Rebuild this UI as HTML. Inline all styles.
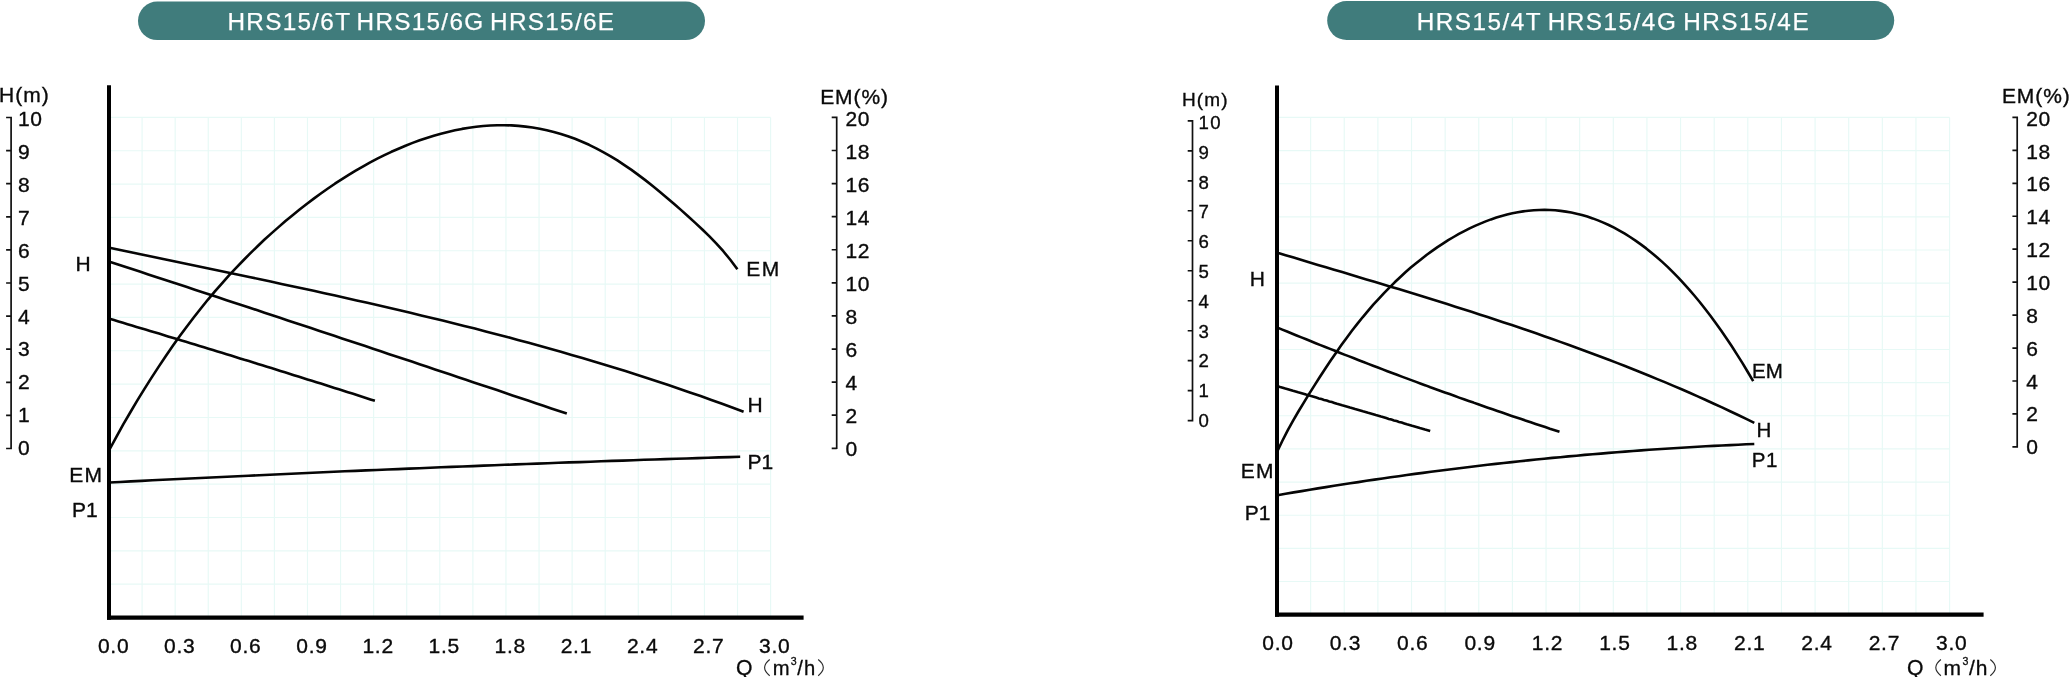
<!DOCTYPE html><html><head><meta charset="utf-8"><title>HRS15 pump curves</title>
<style>html,body{margin:0;padding:0;background:#fff}body{width:2070px;height:677px;overflow:hidden}svg{display:block;will-change:transform}text{font-family:"Liberation Sans",sans-serif}</style></head><body>
<svg width="2070" height="677" viewBox="0 0 2070 677">
<rect width="2070" height="677" fill="#fff"/>
<rect x="138" y="1.5" width="567" height="38.6" rx="19.3" fill="#407c7c"/>
<rect x="1327.2" y="1" width="567" height="39.1" rx="19.5" fill="#407c7c"/>
<text x="421.4" y="30.0" font-size="24.3" letter-spacing="1.3" text-anchor="middle" fill="#fff" stroke="#fff" stroke-width="0.25" word-spacing="-2.4">HRS15/6T HRS15/6G HRS15/6E</text>
<text x="1613.4" y="29.5" font-size="24.3" letter-spacing="1.52" text-anchor="middle" fill="#fff" stroke="#fff" stroke-width="0.25" word-spacing="-2.4">HRS15/4T HRS15/4G HRS15/4E</text>
<path d="M142.08,117.40V617.50M175.16,117.40V617.50M208.24,117.40V617.50M241.32,117.40V617.50M274.40,117.40V617.50M307.48,117.40V617.50M340.56,117.40V617.50M373.64,117.40V617.50M406.72,117.40V617.50M439.80,117.40V617.50M472.88,117.40V617.50M505.96,117.40V617.50M539.04,117.40V617.50M572.12,117.40V617.50M605.20,117.40V617.50M638.28,117.40V617.50M671.36,117.40V617.50M704.44,117.40V617.50M737.52,117.40V617.50M770.60,117.40V617.50M109.00,117.40H770.60M109.00,150.74H770.60M109.00,184.08H770.60M109.00,217.42H770.60M109.00,250.76H770.60M109.00,284.10H770.60M109.00,317.44H770.60M109.00,350.78H770.60M109.00,384.12H770.60M109.00,417.46H770.60M109.00,450.80H770.60M109.00,484.14H770.60M109.00,517.48H770.60M109.00,550.82H770.60M109.00,584.16H770.60" stroke="#e7f9f6" stroke-width="1.15" fill="none"/>
<path d="M1310.63,117.40V614.65M1344.26,117.40V614.65M1377.89,117.40V614.65M1411.52,117.40V614.65M1445.15,117.40V614.65M1478.78,117.40V614.65M1512.41,117.40V614.65M1546.04,117.40V614.65M1579.67,117.40V614.65M1613.30,117.40V614.65M1646.93,117.40V614.65M1680.56,117.40V614.65M1714.19,117.40V614.65M1747.82,117.40V614.65M1781.45,117.40V614.65M1815.08,117.40V614.65M1848.71,117.40V614.65M1882.34,117.40V614.65M1915.97,117.40V614.65M1949.60,117.40V614.65M1277.00,117.40H1949.60M1277.00,150.55H1949.60M1277.00,183.70H1949.60M1277.00,216.85H1949.60M1277.00,250.00H1949.60M1277.00,283.15H1949.60M1277.00,316.30H1949.60M1277.00,349.45H1949.60M1277.00,382.60H1949.60M1277.00,415.75H1949.60M1277.00,448.90H1949.60M1277.00,482.05H1949.60M1277.00,515.20H1949.60M1277.00,548.35H1949.60M1277.00,581.50H1949.60" stroke="#e7f9f6" stroke-width="1.15" fill="none"/>
<path d="M109.0,450.5 L116.1,437.4 L123.1,424.7 L130.2,412.5 L137.2,400.7 L144.3,389.1 L151.4,377.9 L158.4,367.1 L165.5,356.5 L172.5,346.3 L179.6,336.3 L186.7,326.7 L193.7,317.5 L200.8,308.5 L207.8,299.8 L214.9,291.4 L222.0,283.3 L229.0,275.4 L236.1,267.9 L243.2,260.5 L250.2,253.4 L257.3,246.5 L264.3,239.8 L271.4,233.4 L278.5,227.1 L285.5,221.0 L292.6,215.2 L299.6,209.5 L306.7,204.0 L313.8,198.6 L320.8,193.5 L327.9,188.5 L334.9,183.7 L342.0,179.1 L349.1,174.7 L356.1,170.4 L363.2,166.3 L370.2,162.4 L377.3,158.7 L384.4,155.2 L391.4,151.8 L398.5,148.7 L405.5,145.7 L412.6,142.9 L419.7,140.3 L426.7,137.9 L433.8,135.7 L440.9,133.7 L447.9,131.9 L455.0,130.3 L462.0,128.9 L469.1,127.7 L476.2,126.8 L483.2,126.0 L490.3,125.5 L497.3,125.3 L504.4,125.2 L511.5,125.4 L518.5,125.9 L525.6,126.6 L532.6,127.5 L539.7,128.7 L546.8,130.2 L553.8,131.9 L560.9,133.9 L567.9,136.2 L575.0,138.8 L582.1,141.7 L589.1,144.8 L596.2,148.3 L603.2,152.1 L610.3,156.1 L617.4,160.4 L624.4,165.1 L631.5,169.9 L638.6,175.1 L645.6,180.4 L652.7,186.0 L659.7,191.7 L666.8,197.7 L673.9,203.7 L680.9,209.9 L688.0,216.2 L695.0,222.6 L702.1,229.2 L709.2,236.1 L716.2,243.4 L723.3,251.2 L730.3,259.8 L737.4,269.3" stroke="#050505" stroke-width="2.6" fill="none" stroke-linejoin="round"/>
<path d="M109.5,247.8 L120.2,250.0 L131.0,252.3 L141.7,254.6 L152.5,256.8 L163.2,259.0 L174.0,261.3 L184.7,263.5 L195.5,265.8 L206.2,268.0 L217.0,270.2 L227.7,272.5 L238.5,274.8 L249.2,277.0 L260.0,279.3 L270.7,281.6 L281.5,283.9 L292.2,286.2 L303.0,288.5 L313.7,290.8 L324.4,293.2 L335.2,295.6 L345.9,298.0 L356.7,300.4 L367.4,302.8 L378.2,305.3 L388.9,307.8 L399.7,310.3 L410.4,312.8 L421.2,315.4 L431.9,318.0 L442.7,320.6 L453.4,323.2 L464.2,325.9 L474.9,328.6 L485.7,331.4 L496.4,334.2 L507.2,337.0 L517.9,339.9 L528.7,342.8 L539.4,345.8 L550.1,348.8 L560.9,351.8 L571.6,354.9 L582.4,358.1 L593.1,361.3 L603.9,364.5 L614.6,367.8 L625.4,371.1 L636.1,374.5 L646.9,378.0 L657.6,381.5 L668.4,385.1 L679.1,388.7 L689.9,392.4 L700.6,396.1 L711.4,400.0 L722.1,403.8 L732.9,407.8 L743.6,411.8" stroke="#050505" stroke-width="2.6" fill="none" stroke-linejoin="round"/>
<path d="M109.5,261.7 L117.3,264.2 L125.0,266.8 L132.8,269.3 L140.5,271.8 L148.3,274.4 L156.0,276.9 L163.8,279.5 L171.5,282.0 L179.3,284.6 L187.0,287.1 L194.8,289.7 L202.5,292.2 L210.3,294.8 L218.0,297.3 L225.8,299.9 L233.5,302.5 L241.3,305.0 L249.0,307.6 L256.8,310.1 L264.5,312.7 L272.3,315.3 L280.0,317.8 L287.8,320.4 L295.5,323.0 L303.3,325.5 L311.0,328.1 L318.8,330.7 L326.5,333.2 L334.3,335.8 L342.0,338.4 L349.8,341.0 L357.5,343.5 L365.3,346.1 L373.0,348.7 L380.8,351.3 L388.5,353.9 L396.3,356.4 L404.0,359.0 L411.8,361.6 L419.5,364.2 L427.3,366.8 L435.0,369.4 L442.8,372.0 L450.5,374.6 L458.3,377.2 L466.0,379.8 L473.8,382.4 L481.5,384.9 L489.3,387.5 L497.0,390.1 L504.8,392.7 L512.5,395.4 L520.3,398.0 L528.0,400.6 L535.8,403.2 L543.5,405.8 L551.3,408.4 L559.0,411.0 L566.8,413.6" stroke="#050505" stroke-width="2.6" fill="none" stroke-linejoin="round"/>
<path d="M109.5,318.8 L114.0,320.1 L118.5,321.5 L123.0,322.8 L127.5,324.2 L132.0,325.5 L136.5,326.9 L141.0,328.2 L145.5,329.6 L150.0,330.9 L154.5,332.3 L159.0,333.6 L163.5,335.0 L168.0,336.4 L172.5,337.7 L177.0,339.1 L181.5,340.5 L186.0,341.8 L190.5,343.2 L195.0,344.6 L199.5,345.9 L204.0,347.3 L208.5,348.7 L213.0,350.1 L217.5,351.4 L222.0,352.8 L226.5,354.2 L231.0,355.6 L235.5,357.0 L240.0,358.4 L244.4,359.8 L248.9,361.1 L253.4,362.5 L257.9,363.9 L262.4,365.3 L266.9,366.7 L271.4,368.1 L275.9,369.5 L280.4,370.9 L284.9,372.3 L289.4,373.7 L293.9,375.2 L298.4,376.6 L302.9,378.0 L307.4,379.4 L311.9,380.8 L316.4,382.2 L320.9,383.6 L325.4,385.1 L329.9,386.5 L334.4,387.9 L338.9,389.3 L343.4,390.8 L347.9,392.2 L352.4,393.6 L356.9,395.1 L361.4,396.5 L365.9,397.9 L370.4,399.4 L374.9,400.8" stroke="#050505" stroke-width="2.6" fill="none" stroke-linejoin="round"/>
<path d="M109.5,482.5 L120.2,482.0 L130.9,481.4 L141.6,480.9 L152.3,480.3 L162.9,479.8 L173.6,479.3 L184.3,478.8 L195.0,478.2 L205.7,477.7 L216.4,477.2 L227.1,476.7 L237.8,476.2 L248.5,475.7 L259.2,475.2 L269.8,474.7 L280.5,474.2 L291.2,473.7 L301.9,473.2 L312.6,472.8 L323.3,472.3 L334.0,471.8 L344.7,471.3 L355.4,470.9 L366.1,470.4 L376.7,470.0 L387.4,469.5 L398.1,469.1 L408.8,468.6 L419.5,468.2 L430.2,467.8 L440.9,467.3 L451.6,466.9 L462.3,466.5 L473.0,466.1 L483.6,465.6 L494.3,465.2 L505.0,464.8 L515.7,464.4 L526.4,464.0 L537.1,463.6 L547.8,463.2 L558.5,462.8 L569.2,462.4 L579.9,462.1 L590.5,461.7 L601.2,461.3 L611.9,460.9 L622.6,460.6 L633.3,460.2 L644.0,459.8 L654.7,459.5 L665.4,459.1 L676.1,458.8 L686.8,458.5 L697.4,458.1 L708.1,457.8 L718.8,457.4 L729.5,457.1 L740.2,456.8" stroke="#050505" stroke-width="2.6" fill="none" stroke-linejoin="round"/>
<path d="M1277.0,452.0 L1282.4,440.8 L1287.7,430.4 L1293.1,420.7 L1298.4,411.5 L1303.8,402.6 L1309.1,393.9 L1314.5,385.4 L1319.8,377.0 L1325.2,368.7 L1330.5,360.7 L1335.9,352.9 L1341.2,345.3 L1346.6,337.9 L1351.9,330.8 L1357.3,323.9 L1362.6,317.3 L1368.0,310.9 L1373.3,304.7 L1378.7,298.8 L1384.0,293.1 L1389.4,287.6 L1394.7,282.3 L1400.1,277.2 L1405.4,272.3 L1410.8,267.6 L1416.1,263.2 L1421.5,258.9 L1426.8,254.8 L1432.2,250.9 L1437.5,247.1 L1442.9,243.6 L1448.2,240.2 L1453.6,237.0 L1458.9,233.9 L1464.3,231.1 L1469.6,228.4 L1475.0,225.9 L1480.3,223.6 L1485.7,221.4 L1491.0,219.4 L1496.4,217.6 L1501.7,216.0 L1507.1,214.6 L1512.4,213.3 L1517.8,212.3 L1523.1,211.4 L1528.5,210.7 L1533.8,210.3 L1539.2,210.0 L1544.5,209.9 L1549.9,210.0 L1555.2,210.3 L1560.6,210.9 L1565.9,211.6 L1571.3,212.5 L1576.6,213.7 L1582.0,215.0 L1587.3,216.6 L1592.7,218.4 L1598.0,220.4 L1603.4,222.6 L1608.7,225.0 L1614.1,227.7 L1619.4,230.6 L1624.8,233.7 L1630.1,237.0 L1635.5,240.6 L1640.8,244.4 L1646.2,248.4 L1651.5,252.7 L1656.9,257.2 L1662.2,261.9 L1667.6,266.9 L1672.9,272.2 L1678.3,277.6 L1683.6,283.4 L1689.0,289.3 L1694.3,295.5 L1699.7,302.0 L1705.0,308.8 L1710.4,315.7 L1715.7,323.0 L1721.1,330.5 L1726.4,338.2 L1731.8,346.3 L1737.1,354.6 L1742.5,363.1 L1747.8,372.0 L1753.2,381.1" stroke="#050505" stroke-width="2.6" fill="none" stroke-linejoin="round"/>
<path d="M1277.5,252.8 L1285.6,255.2 L1293.7,257.6 L1301.7,260.1 L1309.8,262.5 L1317.9,264.9 L1326.0,267.3 L1334.1,269.7 L1342.2,272.1 L1350.2,274.5 L1358.3,277.0 L1366.4,279.4 L1374.5,281.8 L1382.6,284.2 L1390.6,286.7 L1398.7,289.1 L1406.8,291.6 L1414.9,294.1 L1423.0,296.6 L1431.0,299.1 L1439.1,301.6 L1447.2,304.1 L1455.3,306.7 L1463.4,309.2 L1471.5,311.8 L1479.5,314.4 L1487.6,317.1 L1495.7,319.7 L1503.8,322.4 L1511.9,325.1 L1519.9,327.8 L1528.0,330.6 L1536.1,333.3 L1544.2,336.2 L1552.3,339.0 L1560.3,341.9 L1568.4,344.8 L1576.5,347.7 L1584.6,350.7 L1592.7,353.7 L1600.8,356.7 L1608.8,359.8 L1616.9,362.9 L1625.0,366.0 L1633.1,369.2 L1641.2,372.5 L1649.2,375.8 L1657.3,379.1 L1665.4,382.4 L1673.5,385.9 L1681.6,389.3 L1689.6,392.8 L1697.7,396.4 L1705.8,400.0 L1713.9,403.7 L1722.0,407.4 L1730.1,411.2 L1738.1,415.0 L1746.2,418.9 L1754.3,422.8" stroke="#050505" stroke-width="2.6" fill="none" stroke-linejoin="round"/>
<path d="M1277.5,327.6 L1282.3,329.6 L1287.1,331.5 L1291.8,333.5 L1296.6,335.5 L1301.4,337.4 L1306.2,339.3 L1311.0,341.3 L1315.7,343.2 L1320.5,345.1 L1325.3,347.0 L1330.1,348.9 L1334.9,350.8 L1339.6,352.7 L1344.4,354.6 L1349.2,356.4 L1354.0,358.3 L1358.8,360.2 L1363.5,362.0 L1368.3,363.9 L1373.1,365.7 L1377.9,367.5 L1382.7,369.4 L1387.4,371.2 L1392.2,373.0 L1397.0,374.8 L1401.8,376.6 L1406.6,378.4 L1411.3,380.1 L1416.1,381.9 L1420.9,383.7 L1425.7,385.4 L1430.4,387.2 L1435.2,388.9 L1440.0,390.7 L1444.8,392.4 L1449.6,394.1 L1454.3,395.8 L1459.1,397.6 L1463.9,399.3 L1468.7,401.0 L1473.5,402.6 L1478.2,404.3 L1483.0,406.0 L1487.8,407.7 L1492.6,409.3 L1497.4,411.0 L1502.1,412.6 L1506.9,414.3 L1511.7,415.9 L1516.5,417.5 L1521.3,419.1 L1526.0,420.7 L1530.8,422.3 L1535.6,423.9 L1540.4,425.5 L1545.2,427.1 L1549.9,428.7 L1554.7,430.2 L1559.5,431.8" stroke="#050505" stroke-width="2.6" fill="none" stroke-linejoin="round"/>
<path d="M1277.5,386.2 L1280.1,387.0 L1282.7,387.7 L1285.3,388.5 L1287.9,389.2 L1290.4,390.0 L1293.0,390.8 L1295.6,391.5 L1298.2,392.3 L1300.8,393.0 L1303.4,393.8 L1306.0,394.6 L1308.6,395.3 L1311.1,396.1 L1313.7,396.8 L1316.3,397.6 L1318.9,398.4 L1321.5,399.1 L1324.1,399.9 L1326.7,400.6 L1329.3,401.4 L1331.9,402.1 L1334.4,402.9 L1337.0,403.7 L1339.6,404.4 L1342.2,405.2 L1344.8,405.9 L1347.4,406.7 L1350.0,407.5 L1352.6,408.2 L1355.1,409.0 L1357.7,409.7 L1360.3,410.5 L1362.9,411.3 L1365.5,412.0 L1368.1,412.8 L1370.7,413.5 L1373.3,414.3 L1375.8,415.1 L1378.4,415.8 L1381.0,416.6 L1383.6,417.3 L1386.2,418.1 L1388.8,418.9 L1391.4,419.6 L1394.0,420.4 L1396.6,421.1 L1399.1,421.9 L1401.7,422.6 L1404.3,423.4 L1406.9,424.2 L1409.5,424.9 L1412.1,425.7 L1414.7,426.4 L1417.3,427.2 L1419.8,428.0 L1422.4,428.7 L1425.0,429.5 L1427.6,430.2 L1430.2,431.0" stroke="#050505" stroke-width="2.6" fill="none" stroke-linejoin="round"/>
<path d="M1277.5,495.2 L1285.6,493.8 L1293.7,492.4 L1301.7,491.1 L1309.8,489.7 L1317.9,488.4 L1326.0,487.1 L1334.1,485.8 L1342.2,484.5 L1350.2,483.3 L1358.3,482.1 L1366.4,480.8 L1374.5,479.6 L1382.6,478.5 L1390.6,477.3 L1398.7,476.2 L1406.8,475.0 L1414.9,473.9 L1423.0,472.9 L1431.0,471.8 L1439.1,470.7 L1447.2,469.7 L1455.3,468.7 L1463.4,467.7 L1471.5,466.7 L1479.5,465.8 L1487.6,464.8 L1495.7,463.9 L1503.8,463.0 L1511.9,462.1 L1519.9,461.2 L1528.0,460.4 L1536.1,459.5 L1544.2,458.7 L1552.3,457.9 L1560.3,457.2 L1568.4,456.4 L1576.5,455.7 L1584.6,454.9 L1592.7,454.2 L1600.8,453.6 L1608.8,452.9 L1616.9,452.2 L1625.0,451.6 L1633.1,451.0 L1641.2,450.4 L1649.2,449.8 L1657.3,449.3 L1665.4,448.7 L1673.5,448.2 L1681.6,447.7 L1689.6,447.2 L1697.7,446.7 L1705.8,446.3 L1713.9,445.9 L1722.0,445.5 L1730.1,445.1 L1738.1,444.7 L1746.2,444.3 L1754.3,444.0" stroke="#050505" stroke-width="2.6" fill="none" stroke-linejoin="round"/>
<path d="M109,85.3V619.7" stroke="#000" stroke-width="4" fill="none"/>
<path d="M107,617.6H803.6" stroke="#000" stroke-width="4.3" fill="none"/>
<path d="M1277,85.6V616.7" stroke="#000" stroke-width="4" fill="none"/>
<path d="M1275,614.6H1983.6" stroke="#000" stroke-width="4.3" fill="none"/>
<path d="M11.10,116.70V449.30M6.10,117.50H11.10M6.10,150.60H11.10M6.10,183.70H11.10M6.10,216.80H11.10M6.10,249.90H11.10M6.10,283.00H11.10M6.10,316.10H11.10M6.10,349.20H11.10M6.10,382.30H11.10M6.10,415.40H11.10M6.10,448.50H11.10" stroke="#111" stroke-width="1.7" fill="none"/>
<path d="M836.70,116.60V449.10M831.70,117.40H836.70M831.70,150.49H836.70M831.70,183.58H836.70M831.70,216.67H836.70M831.70,249.76H836.70M831.70,282.85H836.70M831.70,315.94H836.70M831.70,349.03H836.70M831.70,382.12H836.70M831.70,415.21H836.70M831.70,448.30H836.70" stroke="#111" stroke-width="1.7" fill="none"/>
<path d="M1192.50,120.00V421.50M1187.70,120.80H1192.50M1187.70,150.79H1192.50M1187.70,180.78H1192.50M1187.70,210.77H1192.50M1187.70,240.76H1192.50M1187.70,270.75H1192.50M1187.70,300.74H1192.50M1187.70,330.73H1192.50M1187.70,360.72H1192.50M1187.70,390.71H1192.50M1187.70,420.70H1192.50" stroke="#111" stroke-width="1.7" fill="none"/>
<path d="M2017.20,116.60V447.70M2012.40,117.40H2017.20M2012.40,150.35H2017.20M2012.40,183.30H2017.20M2012.40,216.25H2017.20M2012.40,249.20H2017.20M2012.40,282.15H2017.20M2012.40,315.10H2017.20M2012.40,348.05H2017.20M2012.40,381.00H2017.20M2012.40,413.95H2017.20M2012.40,446.90H2017.20" stroke="#111" stroke-width="1.7" fill="none"/>
<text x="18.0" y="455.3" font-size="21" letter-spacing="0.6" text-anchor="start" fill="#0a0a0a" stroke="#0a0a0a" stroke-width="0.35" >0</text>
<text x="18.0" y="422.4" font-size="21" letter-spacing="0.6" text-anchor="start" fill="#0a0a0a" stroke="#0a0a0a" stroke-width="0.35" >1</text>
<text x="18.0" y="389.4" font-size="21" letter-spacing="0.6" text-anchor="start" fill="#0a0a0a" stroke="#0a0a0a" stroke-width="0.35" >2</text>
<text x="18.0" y="356.4" font-size="21" letter-spacing="0.6" text-anchor="start" fill="#0a0a0a" stroke="#0a0a0a" stroke-width="0.35" >3</text>
<text x="18.0" y="323.5" font-size="21" letter-spacing="0.6" text-anchor="start" fill="#0a0a0a" stroke="#0a0a0a" stroke-width="0.35" >4</text>
<text x="18.0" y="290.6" font-size="21" letter-spacing="0.6" text-anchor="start" fill="#0a0a0a" stroke="#0a0a0a" stroke-width="0.35" >5</text>
<text x="18.0" y="257.6" font-size="21" letter-spacing="0.6" text-anchor="start" fill="#0a0a0a" stroke="#0a0a0a" stroke-width="0.35" >6</text>
<text x="18.0" y="224.6" font-size="21" letter-spacing="0.6" text-anchor="start" fill="#0a0a0a" stroke="#0a0a0a" stroke-width="0.35" >7</text>
<text x="18.0" y="191.7" font-size="21" letter-spacing="0.6" text-anchor="start" fill="#0a0a0a" stroke="#0a0a0a" stroke-width="0.35" >8</text>
<text x="18.0" y="158.8" font-size="21" letter-spacing="0.6" text-anchor="start" fill="#0a0a0a" stroke="#0a0a0a" stroke-width="0.35" >9</text>
<text x="18.0" y="125.8" font-size="21" letter-spacing="0.6" text-anchor="start" fill="#0a0a0a" stroke="#0a0a0a" stroke-width="0.35" >10</text>
<text x="845.6" y="455.6" font-size="21" letter-spacing="0.6" text-anchor="start" fill="#0a0a0a" stroke="#0a0a0a" stroke-width="0.35" >0</text>
<text x="845.6" y="422.6" font-size="21" letter-spacing="0.6" text-anchor="start" fill="#0a0a0a" stroke="#0a0a0a" stroke-width="0.35" >2</text>
<text x="845.6" y="389.7" font-size="21" letter-spacing="0.6" text-anchor="start" fill="#0a0a0a" stroke="#0a0a0a" stroke-width="0.35" >4</text>
<text x="845.6" y="356.7" font-size="21" letter-spacing="0.6" text-anchor="start" fill="#0a0a0a" stroke="#0a0a0a" stroke-width="0.35" >6</text>
<text x="845.6" y="323.7" font-size="21" letter-spacing="0.6" text-anchor="start" fill="#0a0a0a" stroke="#0a0a0a" stroke-width="0.35" >8</text>
<text x="845.6" y="290.8" font-size="21" letter-spacing="0.6" text-anchor="start" fill="#0a0a0a" stroke="#0a0a0a" stroke-width="0.35" >10</text>
<text x="845.6" y="257.8" font-size="21" letter-spacing="0.6" text-anchor="start" fill="#0a0a0a" stroke="#0a0a0a" stroke-width="0.35" >12</text>
<text x="845.6" y="224.8" font-size="21" letter-spacing="0.6" text-anchor="start" fill="#0a0a0a" stroke="#0a0a0a" stroke-width="0.35" >14</text>
<text x="845.6" y="191.8" font-size="21" letter-spacing="0.6" text-anchor="start" fill="#0a0a0a" stroke="#0a0a0a" stroke-width="0.35" >16</text>
<text x="845.6" y="158.9" font-size="21" letter-spacing="0.6" text-anchor="start" fill="#0a0a0a" stroke="#0a0a0a" stroke-width="0.35" >18</text>
<text x="845.6" y="125.9" font-size="21" letter-spacing="0.6" text-anchor="start" fill="#0a0a0a" stroke="#0a0a0a" stroke-width="0.35" >20</text>
<text x="-0.9" y="102.2" font-size="21" letter-spacing="1.0" text-anchor="start" fill="#0a0a0a" stroke="#0a0a0a" stroke-width="0.35" >H(m)</text>
<text x="820.2" y="103.9" font-size="21" letter-spacing="0.9" text-anchor="start" fill="#0a0a0a" stroke="#0a0a0a" stroke-width="0.35" >EM(%)</text>
<text x="1198.6" y="426.8" font-size="18.6" letter-spacing="1.2" text-anchor="start" fill="#0a0a0a" stroke="#0a0a0a" stroke-width="0.35" >0</text>
<text x="1198.6" y="397.0" font-size="18.6" letter-spacing="1.2" text-anchor="start" fill="#0a0a0a" stroke="#0a0a0a" stroke-width="0.35" >1</text>
<text x="1198.6" y="367.2" font-size="18.6" letter-spacing="1.2" text-anchor="start" fill="#0a0a0a" stroke="#0a0a0a" stroke-width="0.35" >2</text>
<text x="1198.6" y="337.5" font-size="18.6" letter-spacing="1.2" text-anchor="start" fill="#0a0a0a" stroke="#0a0a0a" stroke-width="0.35" >3</text>
<text x="1198.6" y="307.7" font-size="18.6" letter-spacing="1.2" text-anchor="start" fill="#0a0a0a" stroke="#0a0a0a" stroke-width="0.35" >4</text>
<text x="1198.6" y="277.9" font-size="18.6" letter-spacing="1.2" text-anchor="start" fill="#0a0a0a" stroke="#0a0a0a" stroke-width="0.35" >5</text>
<text x="1198.6" y="248.1" font-size="18.6" letter-spacing="1.2" text-anchor="start" fill="#0a0a0a" stroke="#0a0a0a" stroke-width="0.35" >6</text>
<text x="1198.6" y="218.3" font-size="18.6" letter-spacing="1.2" text-anchor="start" fill="#0a0a0a" stroke="#0a0a0a" stroke-width="0.35" >7</text>
<text x="1198.6" y="188.6" font-size="18.6" letter-spacing="1.2" text-anchor="start" fill="#0a0a0a" stroke="#0a0a0a" stroke-width="0.35" >8</text>
<text x="1198.6" y="158.8" font-size="18.6" letter-spacing="1.2" text-anchor="start" fill="#0a0a0a" stroke="#0a0a0a" stroke-width="0.35" >9</text>
<text x="1198.6" y="129.0" font-size="18.6" letter-spacing="1.2" text-anchor="start" fill="#0a0a0a" stroke="#0a0a0a" stroke-width="0.35" >10</text>
<text x="2026.2" y="454.2" font-size="21" letter-spacing="0.6" text-anchor="start" fill="#0a0a0a" stroke="#0a0a0a" stroke-width="0.35" >0</text>
<text x="2026.2" y="421.3" font-size="21" letter-spacing="0.6" text-anchor="start" fill="#0a0a0a" stroke="#0a0a0a" stroke-width="0.35" >2</text>
<text x="2026.2" y="388.5" font-size="21" letter-spacing="0.6" text-anchor="start" fill="#0a0a0a" stroke="#0a0a0a" stroke-width="0.35" >4</text>
<text x="2026.2" y="355.6" font-size="21" letter-spacing="0.6" text-anchor="start" fill="#0a0a0a" stroke="#0a0a0a" stroke-width="0.35" >6</text>
<text x="2026.2" y="322.8" font-size="21" letter-spacing="0.6" text-anchor="start" fill="#0a0a0a" stroke="#0a0a0a" stroke-width="0.35" >8</text>
<text x="2026.2" y="289.9" font-size="21" letter-spacing="0.6" text-anchor="start" fill="#0a0a0a" stroke="#0a0a0a" stroke-width="0.35" >10</text>
<text x="2026.2" y="257.1" font-size="21" letter-spacing="0.6" text-anchor="start" fill="#0a0a0a" stroke="#0a0a0a" stroke-width="0.35" >12</text>
<text x="2026.2" y="224.2" font-size="21" letter-spacing="0.6" text-anchor="start" fill="#0a0a0a" stroke="#0a0a0a" stroke-width="0.35" >14</text>
<text x="2026.2" y="191.4" font-size="21" letter-spacing="0.6" text-anchor="start" fill="#0a0a0a" stroke="#0a0a0a" stroke-width="0.35" >16</text>
<text x="2026.2" y="158.5" font-size="21" letter-spacing="0.6" text-anchor="start" fill="#0a0a0a" stroke="#0a0a0a" stroke-width="0.35" >18</text>
<text x="2026.2" y="125.7" font-size="21" letter-spacing="0.6" text-anchor="start" fill="#0a0a0a" stroke="#0a0a0a" stroke-width="0.35" >20</text>
<text x="1181.9" y="106.1" font-size="19" letter-spacing="1.2" text-anchor="start" fill="#0a0a0a" stroke="#0a0a0a" stroke-width="0.35" >H(m)</text>
<text x="2001.9" y="102.8" font-size="21" letter-spacing="0.95" text-anchor="start" fill="#0a0a0a" stroke="#0a0a0a" stroke-width="0.35" >EM(%)</text>
<text x="97.9" y="653.1" font-size="21" letter-spacing="0.75" text-anchor="start" fill="#0a0a0a" stroke="#0a0a0a" stroke-width="0.35" >0.0</text>
<text x="1262.3" y="649.6" font-size="21" letter-spacing="0.75" text-anchor="start" fill="#0a0a0a" stroke="#0a0a0a" stroke-width="0.35" >0.0</text>
<text x="164.0" y="653.1" font-size="21" letter-spacing="0.75" text-anchor="start" fill="#0a0a0a" stroke="#0a0a0a" stroke-width="0.35" >0.3</text>
<text x="1329.7" y="649.6" font-size="21" letter-spacing="0.75" text-anchor="start" fill="#0a0a0a" stroke="#0a0a0a" stroke-width="0.35" >0.3</text>
<text x="230.1" y="653.1" font-size="21" letter-spacing="0.75" text-anchor="start" fill="#0a0a0a" stroke="#0a0a0a" stroke-width="0.35" >0.6</text>
<text x="1397.1" y="649.6" font-size="21" letter-spacing="0.75" text-anchor="start" fill="#0a0a0a" stroke="#0a0a0a" stroke-width="0.35" >0.6</text>
<text x="296.3" y="653.1" font-size="21" letter-spacing="0.75" text-anchor="start" fill="#0a0a0a" stroke="#0a0a0a" stroke-width="0.35" >0.9</text>
<text x="1464.4" y="649.6" font-size="21" letter-spacing="0.75" text-anchor="start" fill="#0a0a0a" stroke="#0a0a0a" stroke-width="0.35" >0.9</text>
<text x="362.4" y="653.1" font-size="21" letter-spacing="0.75" text-anchor="start" fill="#0a0a0a" stroke="#0a0a0a" stroke-width="0.35" >1.2</text>
<text x="1531.8" y="649.6" font-size="21" letter-spacing="0.75" text-anchor="start" fill="#0a0a0a" stroke="#0a0a0a" stroke-width="0.35" >1.2</text>
<text x="428.5" y="653.1" font-size="21" letter-spacing="0.75" text-anchor="start" fill="#0a0a0a" stroke="#0a0a0a" stroke-width="0.35" >1.5</text>
<text x="1599.2" y="649.6" font-size="21" letter-spacing="0.75" text-anchor="start" fill="#0a0a0a" stroke="#0a0a0a" stroke-width="0.35" >1.5</text>
<text x="494.6" y="653.1" font-size="21" letter-spacing="0.75" text-anchor="start" fill="#0a0a0a" stroke="#0a0a0a" stroke-width="0.35" >1.8</text>
<text x="1666.6" y="649.6" font-size="21" letter-spacing="0.75" text-anchor="start" fill="#0a0a0a" stroke="#0a0a0a" stroke-width="0.35" >1.8</text>
<text x="560.7" y="653.1" font-size="21" letter-spacing="0.75" text-anchor="start" fill="#0a0a0a" stroke="#0a0a0a" stroke-width="0.35" >2.1</text>
<text x="1734.0" y="649.6" font-size="21" letter-spacing="0.75" text-anchor="start" fill="#0a0a0a" stroke="#0a0a0a" stroke-width="0.35" >2.1</text>
<text x="626.9" y="653.1" font-size="21" letter-spacing="0.75" text-anchor="start" fill="#0a0a0a" stroke="#0a0a0a" stroke-width="0.35" >2.4</text>
<text x="1801.3" y="649.6" font-size="21" letter-spacing="0.75" text-anchor="start" fill="#0a0a0a" stroke="#0a0a0a" stroke-width="0.35" >2.4</text>
<text x="693.0" y="653.1" font-size="21" letter-spacing="0.75" text-anchor="start" fill="#0a0a0a" stroke="#0a0a0a" stroke-width="0.35" >2.7</text>
<text x="1868.7" y="649.6" font-size="21" letter-spacing="0.75" text-anchor="start" fill="#0a0a0a" stroke="#0a0a0a" stroke-width="0.35" >2.7</text>
<text x="759.1" y="653.1" font-size="21" letter-spacing="0.75" text-anchor="start" fill="#0a0a0a" stroke="#0a0a0a" stroke-width="0.35" >3.0</text>
<text x="1936.1" y="649.6" font-size="21" letter-spacing="0.75" text-anchor="start" fill="#0a0a0a" stroke="#0a0a0a" stroke-width="0.35" >3.0</text>
<text x="736.10" y="674.60" font-size="21.2" fill="#0a0a0a" stroke="#0a0a0a" stroke-width="0.3">Q</text><text x="772.70" y="674.90" font-size="20.2" fill="#0a0a0a" stroke="#0a0a0a" stroke-width="0.3">m</text><text x="790.70" y="664.80" font-size="10.6" fill="#0a0a0a" stroke="#0a0a0a" stroke-width="0.3">3</text><text x="797.20" y="674.90" font-size="20.2" fill="#0a0a0a" stroke="#0a0a0a" stroke-width="0.3">/</text><text x="803.95" y="674.90" font-size="20.2" fill="#0a0a0a" stroke="#0a0a0a" stroke-width="0.3">h</text><path d="M769.70,659.50Q759.50,667.60 769.70,675.70" fill="none" stroke="#2a2a2a" stroke-width="1.15"/><path d="M818.20,659.50Q828.40,667.60 818.20,675.70" fill="none" stroke="#2a2a2a" stroke-width="1.15"/>
<text x="1907.00" y="674.60" font-size="21.2" fill="#0a0a0a" stroke="#0a0a0a" stroke-width="0.3">Q</text><text x="1943.60" y="674.90" font-size="21.0" fill="#0a0a0a" stroke="#0a0a0a" stroke-width="0.3">m</text><text x="1962.40" y="664.80" font-size="10.6" fill="#0a0a0a" stroke="#0a0a0a" stroke-width="0.3">3</text><text x="1968.90" y="674.90" font-size="21.0" fill="#0a0a0a" stroke="#0a0a0a" stroke-width="0.3">/</text><text x="1975.65" y="674.90" font-size="21.0" fill="#0a0a0a" stroke="#0a0a0a" stroke-width="0.3">h</text><path d="M1940.90,659.50Q1930.70,667.60 1940.90,675.70" fill="none" stroke="#2a2a2a" stroke-width="1.15"/><path d="M1990.30,659.50Q2000.50,667.60 1990.30,675.70" fill="none" stroke="#2a2a2a" stroke-width="1.15"/>
<text x="75.6" y="270.8" font-size="21" letter-spacing="0" text-anchor="start" fill="#0a0a0a" stroke="#0a0a0a" stroke-width="0.35" >H</text>
<text x="69.3" y="481.6" font-size="21" letter-spacing="1.2" text-anchor="start" fill="#0a0a0a" stroke="#0a0a0a" stroke-width="0.35" >EM</text>
<text x="71.9" y="517.0" font-size="21" letter-spacing="0" text-anchor="start" fill="#0a0a0a" stroke="#0a0a0a" stroke-width="0.35" >P1</text>
<text x="746.2" y="276.3" font-size="21" letter-spacing="1.5" text-anchor="start" fill="#0a0a0a" stroke="#0a0a0a" stroke-width="0.35" >EM</text>
<text x="747.6" y="412.4" font-size="21" letter-spacing="0" text-anchor="start" fill="#0a0a0a" stroke="#0a0a0a" stroke-width="0.35" >H</text>
<text x="747.6" y="468.7" font-size="21" letter-spacing="0" text-anchor="start" fill="#0a0a0a" stroke="#0a0a0a" stroke-width="0.35" >P1</text>
<text x="1249.8" y="286.3" font-size="21" letter-spacing="0" text-anchor="start" fill="#0a0a0a" stroke="#0a0a0a" stroke-width="0.35" >H</text>
<text x="1240.8" y="477.9" font-size="21" letter-spacing="1.2" text-anchor="start" fill="#0a0a0a" stroke="#0a0a0a" stroke-width="0.35" >EM</text>
<text x="1244.8" y="520.0" font-size="21" letter-spacing="0" text-anchor="start" fill="#0a0a0a" stroke="#0a0a0a" stroke-width="0.35" >P1</text>
<text x="1752.0" y="378.4" font-size="20.5" letter-spacing="0.2" text-anchor="start" fill="#0a0a0a" stroke="#0a0a0a" stroke-width="0.35" >EM</text>
<text x="1756.5" y="436.9" font-size="20.5" letter-spacing="0" text-anchor="start" fill="#0a0a0a" stroke="#0a0a0a" stroke-width="0.35" >H</text>
<text x="1751.8" y="467.3" font-size="20.5" letter-spacing="0.6" text-anchor="start" fill="#0a0a0a" stroke="#0a0a0a" stroke-width="0.35" >P1</text>
</svg></body></html>
